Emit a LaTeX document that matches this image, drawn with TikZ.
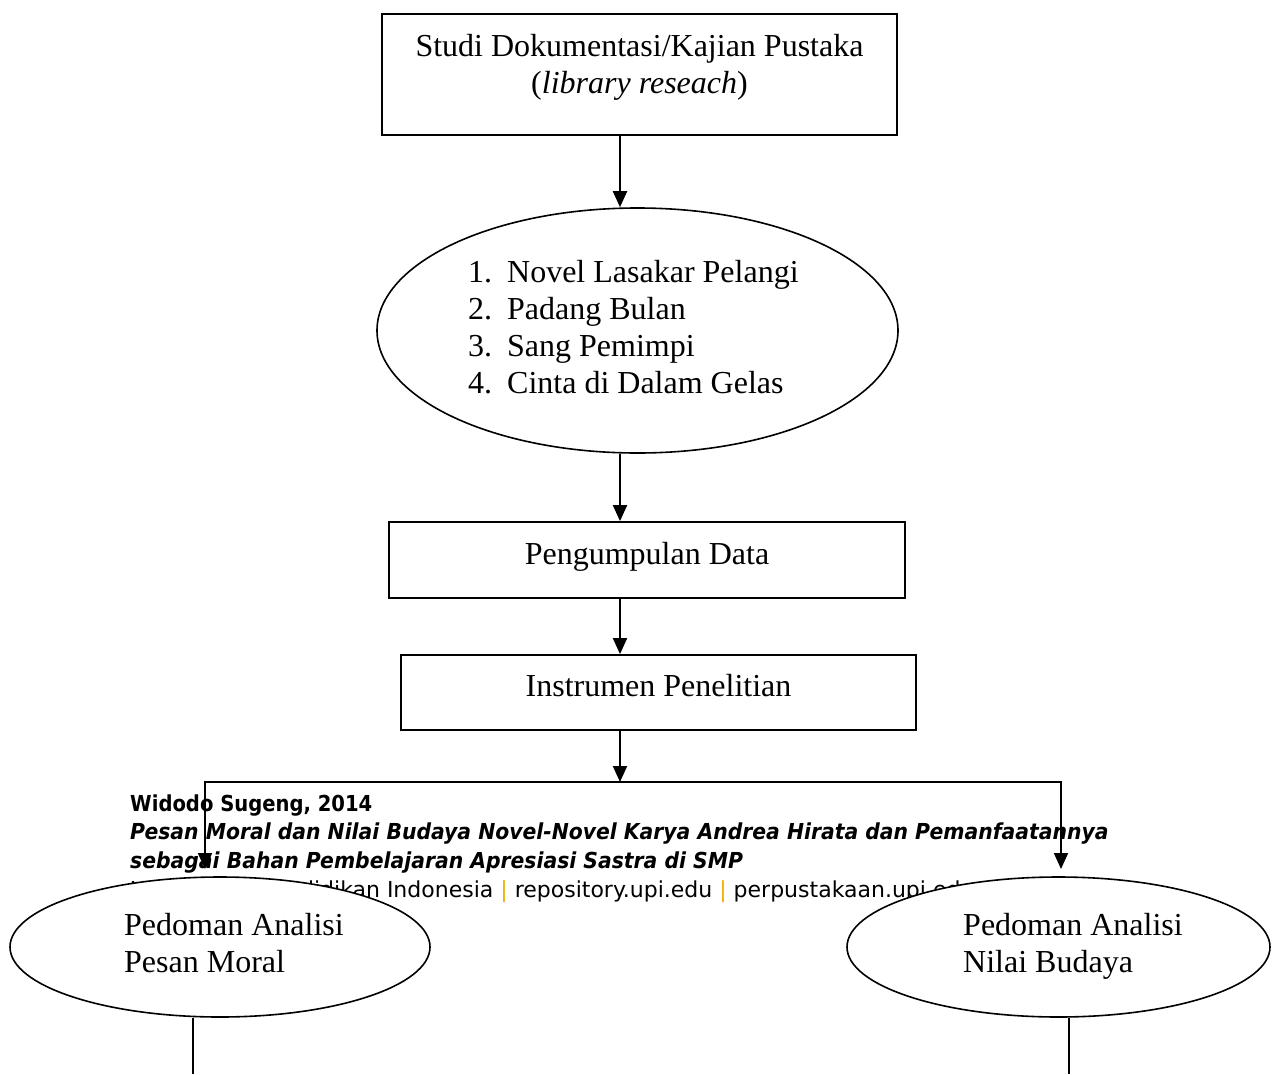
\documentclass[tikz,border=0pt]{standalone}
\usepackage{fontspec}
\setmainfont{Liberation Serif}
\newfontfamily\footreg{DejaVu Sans}
\newfontfamily\footbold[FakeStretch=0.89]{DejaVu Sans}
\newfontfamily\footbi[FakeStretch=0.925]{DejaVu Sans}
\usetikzlibrary{arrows.meta,shapes.geometric,calc}
\definecolor{upiorange}{RGB}{240,176,0}
\tikzset{
  boxshape/.style={draw, line width=1.8pt, rectangle, inner sep=0pt},
  ellshape/.style={draw, line width=1.6pt, ellipse, fill=white, inner sep=0pt},
  txt/.style={inner sep=0pt, font=\fontsize{32}{37}\selectfont},
  foot/.style={inner sep=0pt, font=\footreg\fontsize{22}{28.7}\selectfont},
  arr/.style={line width=2pt, -{Triangle[width=14pt,length=16pt]}},
  conn/.style={line width=2pt},
}
\begin{document}
\begin{tikzpicture}[x=1pt,y=-1pt]
\useasboundingbox (0,0) rectangle (1272,1074);

% footer text (underneath everything)
\node[foot, anchor=base west] (foot) at (130,811) {\begin{tabular}[t]{@{}l@{}}
{\footbold\bfseries Widodo Sugeng, 2014}\\
{\footbi\bfseries\itshape Pesan Moral dan Nilai Budaya Novel-Novel Karya Andrea Hirata dan Pemanfaatannya}\\
{\footbi\bfseries\itshape sebagai Bahan Pembelajaran Apresiasi Sastra di SMP}\\
Universitas Pendidikan Indonesia {\color{upiorange}|} repository.upi.edu {\color{upiorange}|} perpustakaan.upi.edu
\end{tabular}};

% shapes
\node[boxshape, minimum width=515, minimum height=121] (b1) at (639.5,74.5) {};
\node[txt, anchor=base] (t1) at (639.5,56) {\begin{tabular}[t]{@{}c@{}}Studi Dokumentasi/Kajian Pustaka\\(\textit{library reseach})\end{tabular}};

\node[ellshape, minimum width=521, minimum height=245] (e1) at (637.5,330.5) {};
\node[txt, anchor=base west] (t2) at (468,282) {\begin{tabular}[t]{@{}l@{}l@{}}
\makebox[39pt][l]{1.} & Novel Lasakar Pelangi\\
\makebox[39pt][l]{2.} & Padang Bulan\\
\makebox[39pt][l]{3.} & Sang Pemimpi\\
\makebox[39pt][l]{4.} & Cinta di Dalam Gelas
\end{tabular}};

\node[boxshape, minimum width=516, minimum height=76] (b3) at (647,560) {};
\node[txt, anchor=base] (t3) at (647,564) {Pengumpulan Data};

\node[boxshape, minimum width=515, minimum height=75] (b4) at (658.5,692.5) {};
\node[txt, anchor=base] (t4) at (658.5,696) {Instrumen Penelitian};

\node[ellshape, minimum width=420, minimum height=140] (l1) at (220,947) {};
\node[txt, anchor=base west] (tl) at (124,935) {\begin{tabular}[t]{@{}l@{}}Pedoman Analisi\\Pesan Moral\end{tabular}};

\node[ellshape, minimum width=423, minimum height=140] (r1) at (1058.5,947) {};
\node[txt, anchor=base west] (tr) at (963,935) {\begin{tabular}[t]{@{}l@{}}Pedoman Analisi\\Nilai Budaya\end{tabular}};

% connector helpers
\coordinate (cx) at (620,0);
\coordinate (split) at (620,782);
\coordinate (ltip) at (205,869);
\coordinate (rtip) at (1061,869);
\coordinate (lbot) at (193,1074);
\coordinate (rbot) at (1069,1074);

% connectors
\draw[arr] (cx |- b1.south) -- (cx |- e1.north);
\draw[arr] (cx |- e1.south) -- (cx |- b3.north);
\draw[arr] (cx |- b3.south) -- (cx |- b4.north);
\draw[arr] (cx |- b4.south) -- (split);
\draw[arr] (split) -| (ltip);
\draw[arr] (split) -| (rtip);
\draw[conn] (lbot |- l1.south) -- (lbot);
\draw[conn] (rbot |- r1.south) -- (rbot);
\end{tikzpicture}
\end{document}
